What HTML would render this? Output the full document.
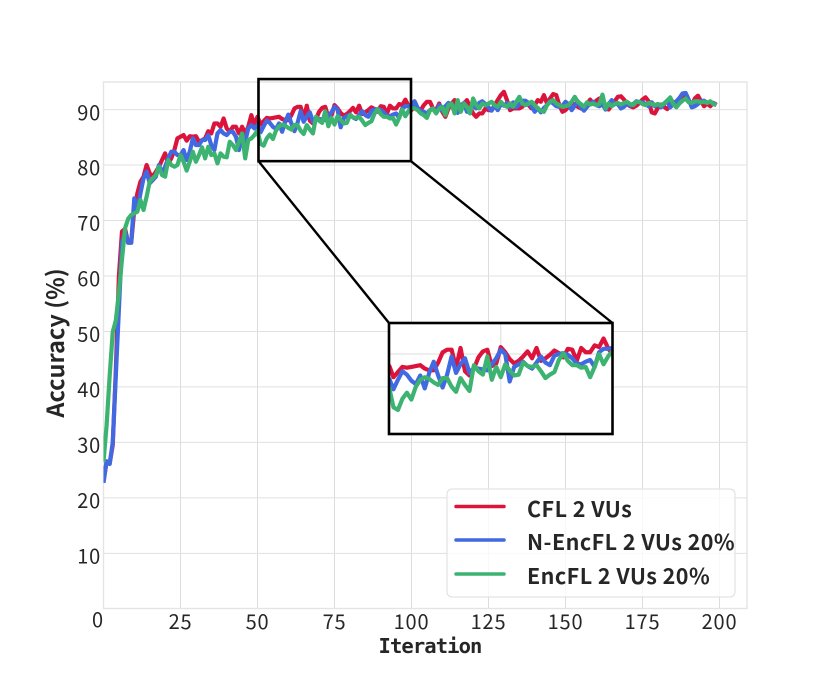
<!DOCTYPE html>
<html lang="en">
<head>
<meta charset="utf-8">
<title>Accuracy vs Iteration</title>
<style>
  html, body { margin: 0; padding: 0; background: #fff; width: 830px; height: 684px; overflow: hidden; }
  svg { display: block; }
  .tick { font-family: "Noto Sans CJK JP", "Liberation Sans", sans-serif; font-size: 20px; letter-spacing: 0.8px; fill: #262626; }
  .ylab { font-family: "Noto Sans CJK JP", "Liberation Sans", sans-serif; font-size: 23.5px; font-weight: 700; fill: #262626; }
  .xlab { font-family: "DejaVu Sans Mono", monospace; font-size: 20.5px; font-weight: 700; letter-spacing: -0.9px; fill: #262626; }
  .leg { font-family: "Noto Sans CJK JP", "Liberation Sans", sans-serif; font-size: 21.5px; font-weight: 700; letter-spacing: 0.45px; fill: #262626; }
</style>
</head>
<body>
<svg id="chart" xmlns="http://www.w3.org/2000/svg" width="830" height="684" viewBox="0 0 830 684">
  <defs>
    <clipPath id="main-clip"><rect x="103.5" y="60" width="643.5" height="548.5"></rect></clipPath>
    <clipPath id="inset-clip"><rect x="389" y="323" width="223" height="111"></rect></clipPath>
  </defs>
  <rect x="0" y="0" width="830" height="684" fill="#ffffff"></rect>
  <g id="grid"></g>
  <rect x="103.5" y="82" width="643.5" height="526.5" fill="none" stroke="#e4e4e4" stroke-width="1.4"></rect>
  <g id="series" clip-path="url(#main-clip)"></g>
  <g id="xticks"></g>
  <g id="yticks"></g>
  <text class="xlab" x="430" y="653" text-anchor="middle">Iteration</text>
  <text class="ylab" x="0" y="0" text-anchor="middle" transform="translate(64 343) rotate(-90)">Accuracy (%)</text>
  <g id="zoom"></g>
  <g id="inset"></g>
  <g>
    <rect x="447" y="489" width="288" height="108" rx="5" fill="#ffffff" fill-opacity="0.8" stroke="#dedede" stroke-width="1"></rect>
    <line x1="456" x2="504" y1="506.5" y2="506.5" stroke="#dc143c" stroke-width="3.5" stroke-linecap="round"></line>
    <text class="leg" x="527" y="517">CFL 2 VUs</text>
    <line x1="456" x2="504" y1="540" y2="540" stroke="#4169e1" stroke-width="3.5" stroke-linecap="round"></line>
    <text class="leg" x="527" y="550">N-EncFL 2 VUs 20%</text>
    <line x1="456" x2="504" y1="574" y2="574" stroke="#3cb371" stroke-width="3.5" stroke-linecap="round"></line>
    <text class="leg" x="527" y="584">EncFL 2 VUs 20%</text>
  </g>
</svg>
<script>
var xTickValues = [0, 25, 50, 75, 100, 125, 150, 175, 200];
var yTickValues = [10, 20, 30, 40, 50, 60, 70, 80, 90];

var cflValues = [
  23,26.5,26.2,29.5,43,60,68,68.5,66,66,
  72,74.9,77,77.9,80,78.5,77.9,78.8,79.7,80.9,
  82.1,80.3,81.2,82.7,84.8,85.1,85.4,84.4,85.2,85.1,
  85.2,84.2,84.5,84.8,86.1,85.7,87.5,87.5,86.9,88.4,
  86.6,86,86.9,86.9,85.7,86.9,85.7,86.9,89,87.2,
  88.7,87.3,87.9,88.5,88.4,88.5,88.6,88.7,88.3,88.1,
  88.1,89,90.2,90.5,90.5,88.4,90.7,88,87.5,88.3,
  89.6,90.3,90.5,88.6,88.9,90.8,90.2,89.4,88.9,89.2,
  89.7,90.3,89.5,90.7,89.2,89.5,89.9,90.4,90.1,89.6,
  90.6,90.5,89.2,90.7,90.2,90.2,91,90.8,91.8,90.7,89.9,
  90.5,90.2,89.9,90.8,91.4,91.4,90.2,89.9,91.1,89.6,
  88.7,90.2,91.1,91.7,90.2,90.8,91.1,91.7,90.5,89.3,
  88.7,89.3,89.3,90.2,89.9,89.9,90.8,91.7,92.6,93.2,
  91.7,89.9,90.2,90.2,90.2,90.5,91.4,90.8,90.2,90.8,
  91.7,91.4,92.6,91.1,92,92.8,92.6,90.8,89.6,89.9,
  90.5,91.4,
  90.8,90.5,90.2,90.5,91,91.8,91,91.6,92,91,
  90.5,90,90.8,91.5,92.3,92.4,91.8,91,90.6,90.4,
  90.7,91.2,91.8,92.2,91.5,89.5,89.3,90.3,90.9,90.5,
  90.1,90.7,91.4,91,91.6,92.3,92.8,91.6,90.8,92,
  92.5,91.5,90.6,91.1,90.6,91.2,90.8
];

var nEncflValues = [
  22.7,26.6,26.1,30,42,54,66,68,66,66,
  74,71.9,74.9,77.6,78.8,76.7,77.3,77.9,80,78.5,
  79.7,81.2,82.4,82.4,81.8,81.8,82.7,80.9,82.4,84.8,
  83.6,83.6,84.5,84.5,85.4,83.6,82.7,85.7,86.3,85.7,
  85.4,86,86,85.1,82.7,85.4,84.2,86.6,87.2,86.6,
  87.2,85.9,87,88,87.6,86.9,86.5,87.5,86,87.8,
  89.1,87.5,86.1,87.6,89.7,87.8,88.8,89.5,87.8,88.4,
  88.3,88.2,88.1,88.8,89.5,90.5,90,86.8,88.5,88.8,
  89.1,88.6,88.3,89,89.7,89,88.7,89.8,90,90.1,
  89.9,89.5,88.9,88.8,89.1,89.3,88.5,90.2,90.6,90.6,90.7,
  91.5,90.3,89.7,89.6,89.3,89.9,90.1,89.4,90.8,89.8,
  90.6,91.2,90.7,90.6,89.4,90.5,91.2,89.6,89.9,90.8,
  90.2,91.2,91.5,91,90.4,89.8,90.7,89.9,91,90.7,
  91.2,90.4,91.3,90.4,90.9,91.6,91.6,91.2,90.6,89.6,
  90.3,89.5,90.3,90.8,91.5,91.1,90.6,90.5,90.7,91.4,
  91,89.9,90.7,91.5,90.4,89.8,90.5,91.1,91.4,90.8,
  90.6,91,90,91,91.7,91,91,90.2,90.5,91.1,
  90.7,91,91.5,91.3,91.3,91,90.6,91.3,90.6,91,
  90.4,91,91.6,90.4,91,91.5,92.1,92.9,93,91.8,
  90.4,90.6,91,91.5,91.6,91.2,91.4,91.1,91
];

var encflValues = [
  26.5,33,42,49.9,52,57,63,68.6,70.3,71,
  71.3,71.6,73.7,71.9,74.3,77,77.6,78.2,79.7,78.2,
  77.9,80.9,80,79.7,80,81.8,80.6,79,80.6,82.4,
  80.6,81.8,83.2,81.2,83.3,81.8,82.1,80.3,82.1,81.5,
  81.4,84.2,83.6,82.7,84.2,85.7,81.2,84.5,84.8,85.4,
  86.2,83.8,83.5,84.8,85.5,84.7,86.2,87,87.3,87.1,
  86.7,86.4,87.2,87.2,86.2,85.6,87.2,86.4,85.7,88.7,
  88,87.6,89.7,87,88.5,87.3,88.8,88.1,87.5,87.6,
  89,88.6,88.5,88.7,88,87.2,87.6,87.9,89.3,90.1,
  89.2,88.7,88.7,88.4,88.5,87.3,88.5,90,88.8,89.7,90.3,
  90.2,89.9,89.3,89,88.5,89.9,90.2,89.3,90.2,90.5,
  89,90.8,91.1,89.3,91.7,89.6,91.1,90.5,89.3,92,
  90.8,90.2,91.1,90.8,91.1,91.4,90.8,90.5,91.4,90.8,
  90.5,91.1,90.5,91.4,92.3,91.1,90.8,91.1,91.4,90.8,
  90.2,89.8,89.6,90.8,91.4,91.7,91.1,90.8,90.5,90.6,
  90.8,91.4,92.3,91.4,
  91,90.5,91.3,90.9,91.1,90.8,91,92.7,90.2,91.1,
  90.6,91,91.2,90.9,91.2,91.4,91,90.8,91.4,91.4,
  91,90.8,91.2,91,90.8,91,90.7,91.1,91.6,92.2,
  91,90.4,91.1,91.6,92,91.3,91.2,91.5,91.5,91.3,
  91.4,91.2,91.5,91,90.8
];

var zoomXRange = [50, 100];
var zoomYRange = [80.7, 95.5];
var insetYRange = [80.7, 93.6];
var insetXTicks = [75];
var insetYTicks = [90];

var SVGNS = 'http://www.w3.org/2000/svg';

function xMain(v) { return 103.5 + v * 3.08; }
function yMain(v) { return 608.8 - v * 5.547; }
function xInset(v) { return 389 + (v - zoomXRange[0]) / (zoomXRange[1] - zoomXRange[0]) * 223.5; }
function yInset(v) { return 434 - (v - insetYRange[0]) / (insetYRange[1] - insetYRange[0]) * 111; }

function make(tag, parent, attrs) {
  var el = document.createElementNS(SVGNS, tag);
  for (var k in attrs) { el.setAttribute(k, attrs[k]); }
  parent.appendChild(el);
  return el;
}

function pathFor(values, xf, yf, from, to) {
  var d = '';
  for (var i = from; i <= to && i < values.length; i++) {
    d += (d ? 'L' : 'M') + xf(i).toFixed(2) + ' ' + yf(values[i]).toFixed(2);
  }
  return d;
}

var gridGroup = document.getElementById('grid');
xTickValues.forEach(function (t) {
  if (t === 0) { return; }
  var gl = make('line', gridGroup, { x1: xMain(t), x2: xMain(t), y1: 82, y2: 608.5, stroke: '#dcdcdc', 'stroke-width': 1 });
  
  
});
yTickValues.forEach(function (t) {
  var gl = make('line', gridGroup, { x1: 103.5, x2: 747, y1: yMain(t), y2: yMain(t), stroke: '#e0e0e0', 'stroke-width': 1 });
  
  
});

var xTickGroup = document.getElementById('xticks');
xTickValues.forEach(function (t) {
  var label = make('text', xTickGroup, { 'class': 'tick', x: t === 0 ? 98 : xMain(t), y: t === 0 ? 627 : 629, 'text-anchor': 'middle' });
  label.textContent = String(t);
  
  
});

var yTickGroup = document.getElementById('yticks');
yTickValues.forEach(function (t) {
  var label = make('text', yTickGroup, { 'class': 'tick', x: 101, y: yMain(t) + 10.2, 'text-anchor': 'end' });
  label.textContent = String(t);
  
  
});

var seriesList = [
  { key: 'cfl', values: cflValues, color: '#dc143c' },
  { key: 'n-encfl', values: nEncflValues, color: '#4169e1' },
  { key: 'encfl', values: encflValues, color: '#3cb371' }
];

var seriesGroup = document.getElementById('series');
seriesList.forEach(function (s) {
  var p = make('path', seriesGroup, { d: pathFor(s.values, xMain, yMain, 0, s.values.length - 1), fill: 'none', stroke: s.color, 'stroke-width': 4.2, 'stroke-linejoin': 'round' });
  
  
});

var zoomGroup = document.getElementById('zoom');
var zx0 = xMain(zoomXRange[0]) + 1;
var zx1 = xMain(zoomXRange[1]) - 0.5;
var zy0 = yMain(zoomYRange[1]);
var zy1 = yMain(zoomYRange[0]);
var zoomBox = make('rect', zoomGroup, { x: zx0, y: zy0, width: zx1 - zx0, height: zy1 - zy0, fill: 'none', stroke: '#000000', 'stroke-width': 2.6 });


var connLeft = make('line', zoomGroup, { x1: zx0, y1: zy1, x2: 389, y2: 323, stroke: '#000000', 'stroke-width': 2.4 });


var connRight = make('line', zoomGroup, { x1: zx1, y1: zy1, x2: 612.5, y2: 323, stroke: '#000000', 'stroke-width': 2.4 });



var insetGroup = document.getElementById('inset');
var insetBg = make('rect', insetGroup, { x: 389, y: 323, width: 223.5, height: 111, fill: '#ffffff' });


insetXTicks.forEach(function (t) {
  var gl = make('line', insetGroup, { x1: xInset(t), x2: xInset(t), y1: 323, y2: 434, stroke: '#dcdcdc', 'stroke-width': 1 });
  
  
});
insetYTicks.forEach(function (t) {
  var gl = make('line', insetGroup, { x1: 389, x2: 612.5, y1: yInset(t), y2: yInset(t), stroke: '#dcdcdc', 'stroke-width': 1 });
  
  
});
var insetSeries = make('g', insetGroup, { 'clip-path': 'url(#inset-clip)' });


seriesList.forEach(function (s) {
  var p = make('path', insetSeries, { d: pathFor(s.values, xInset, yInset, zoomXRange[0], zoomXRange[1]), fill: 'none', stroke: s.color, 'stroke-width': 4.2, 'stroke-linejoin': 'round' });
  
  
});
var insetFrame = make('rect', insetGroup, { x: 389, y: 323, width: 223.5, height: 111, fill: 'none', stroke: '#000000', 'stroke-width': 2.6 });


</script>
</body>
</html>
